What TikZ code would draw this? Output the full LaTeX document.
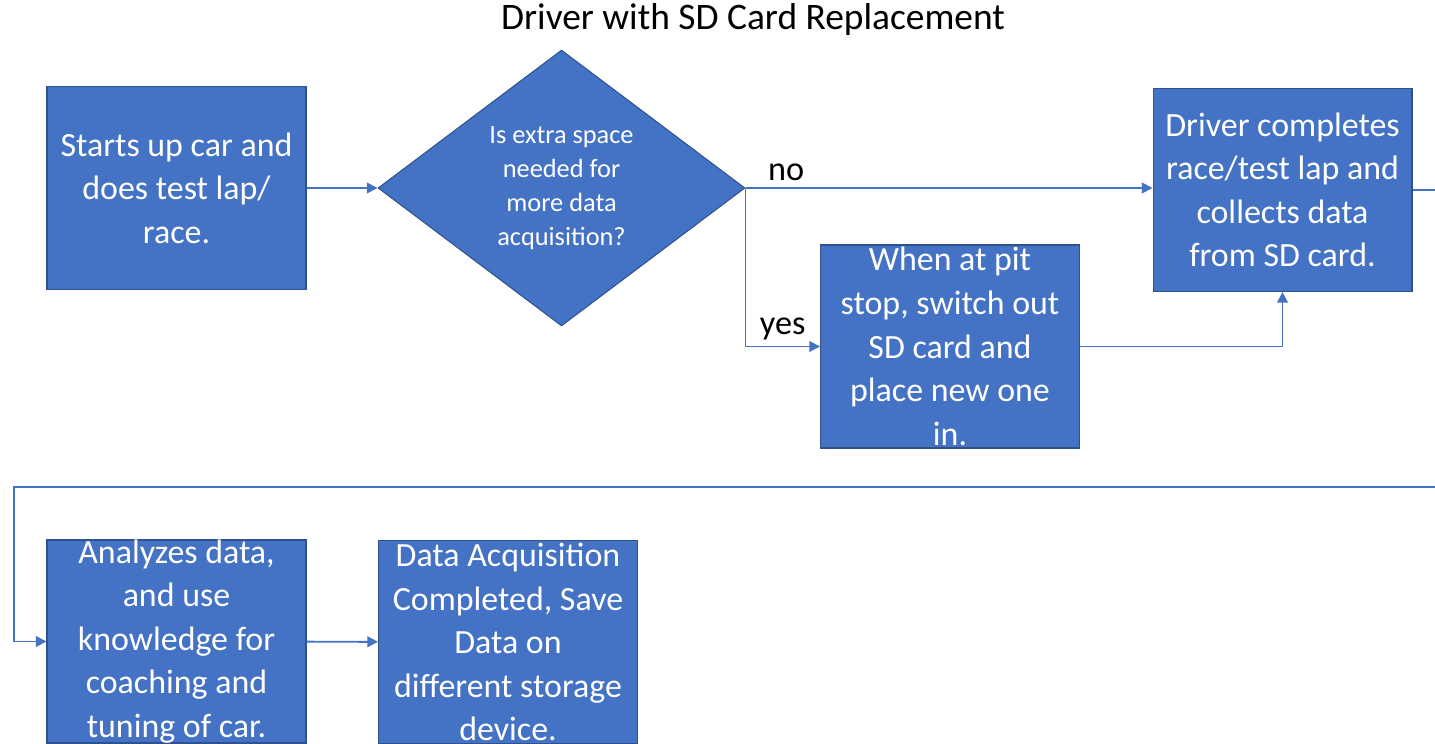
\documentclass[tikz,border=0pt]{standalone}
\usepackage{fontspec}
\setmainfont{Carlito}
\usetikzlibrary{shapes.geometric,arrows.meta}
\definecolor{boxblue}{RGB}{68,114,196}
\definecolor{boxedge}{RGB}{47,82,143}
\begin{document}
\begin{tikzpicture}[x=0.02cm,y=-0.02cm,>={Triangle[length=6pt,width=6pt]},
  box/.style={draw=boxedge,line width=0.6pt,fill=boxblue,minimum width=5.18cm,minimum height=4.06cm,inner sep=0pt},
  boxtext/.style={text=white,align=center,font=\fontsize{19.3}{24.8}\selectfont},
  conn/.style={->,draw=boxblue,line width=1.1pt},
  lbl/.style={font=\fontsize{19.5}{24}\selectfont}]
\useasboundingbox (0,0) rectangle (1435,743);
\clip (0,0) rectangle (1435,743);
\node[lbl,font=\fontsize{21.3}{25}\selectfont] (title) at (753,20) {Driver with SD Card Replacement};
\node[box] (start) at (176.5,188) {};
\node[boxtext] at (start) {Starts up car and\\does test lap/\\race.};
\node[diamond,draw=boxedge,line width=0.6pt,fill=boxblue,minimum width=7.34cm,minimum height=5.52cm,inner sep=0pt] (decide) at (561.5,188) {};
\node[boxtext,font=\fontsize{15}{19.3}\selectfont] at (decide) {Is extra space\\needed for\\more data\\acquisition?};
\node[box] (drive) at (1282.5,190) {};
\node[boxtext] at (drive) {Driver completes\\race/test lap and\\collects data\\from SD card.};
\node[box] (pit) at (950,346.5) {};
\node[boxtext] at (pit) {When at pit\\stop, switch out\\SD card and\\place new one\\in.};
\node[box] (analyze) at (176.5,641.5) {};
\node[boxtext] at (analyze) {Analyzes data,\\and use\\knowledge for\\coaching and\\tuning of car.};
\node[box] (save) at (508,642) {};
\node[boxtext] at (save) {Data Acquisition\\Completed, Save\\Data on\\different storage\\device.};
\coordinate (turnR) at (1450,487);
\coordinate (turnL) at (14,487);
\draw[conn] (start) -- (decide);
\draw[conn] (decide.east) -- node[lbl,above,pos=0.1] {no} (decide.east -| drive.west);
\draw[conn] (decide.east) |- node[lbl,above,pos=0.75] {yes} (pit.west);
\draw[conn] (pit.east) -| (drive.south);
\draw[conn] (drive.east) -| (turnR) -- (turnL) |- (analyze.west);
\draw[conn] (analyze) -- (save);
\end{tikzpicture}
\end{document}
